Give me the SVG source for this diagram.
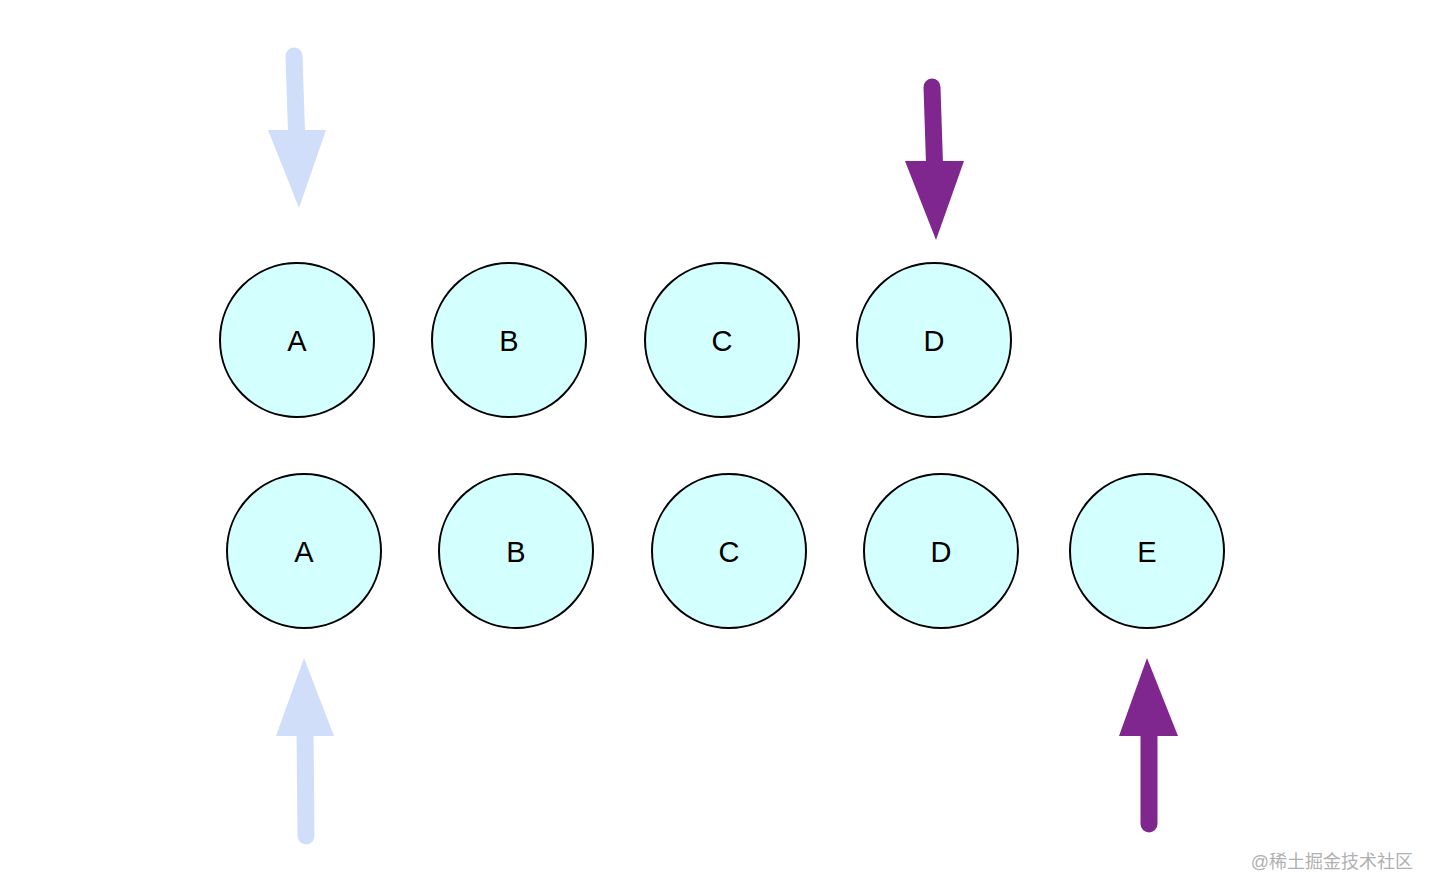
<svg xmlns="http://www.w3.org/2000/svg" width="1438" height="896" viewBox="0 0 1438 896">
<style>
.n circle{fill:#d4ffff;stroke:#000;stroke-width:2}
.n text{font-family:"Liberation Sans",Arial,sans-serif;font-size:29px;fill:#000;text-anchor:middle;dominant-baseline:central}
.sh{fill:none;stroke-width:17;stroke-linecap:round}
.lb{stroke:#d0defa}.lbf{fill:#d0defa}
.pu{stroke:#80278f}.puf{fill:#80278f}
.wm{font-family:"Liberation Sans","Noto Sans CJK SC",sans-serif;font-size:18px;fill:#b0b0b0;text-anchor:end}
</style>
<rect width="1438" height="896" fill="#fff"/>
<g id="connectors">
<line class="sh lb" x1="294" y1="56" x2="296.5" y2="132"/>
<polygon class="lbf" points="268,130 326,130 299,208"/>
<line class="sh pu" x1="932" y1="87" x2="934.5" y2="164"/>
<polygon class="puf" points="905,161 964,161 936,240"/>
<line class="sh lb" x1="306" y1="836" x2="305" y2="733"/>
<polygon class="lbf" points="304,658 276,736 334,736"/>
<line class="sh pu" x1="1149" y1="824" x2="1149" y2="734"/>
<polygon class="puf" points="1147,658 1119,736 1178,736"/>
</g>
<g id="a1" class="n"><circle cx="297" cy="340" r="77"/><text x="297" y="341">A</text></g>
<g id="b1" class="n"><circle cx="509" cy="340" r="77"/><text x="509" y="341">B</text></g>
<g id="c1" class="n"><circle cx="722" cy="340" r="77"/><text x="722" y="341">C</text></g>
<g id="d1" class="n"><circle cx="934" cy="340" r="77"/><text x="934" y="341">D</text></g>
<g id="a2" class="n"><circle cx="304" cy="551" r="77"/><text x="304" y="552">A</text></g>
<g id="b2" class="n"><circle cx="516" cy="551" r="77"/><text x="516" y="552">B</text></g>
<g id="c2" class="n"><circle cx="729" cy="551" r="77"/><text x="729" y="552">C</text></g>
<g id="d2" class="n"><circle cx="941" cy="551" r="77"/><text x="941" y="552">D</text></g>
<g id="e2" class="n"><circle cx="1147" cy="551" r="77"/><text x="1147" y="552">E</text></g>
<text class="wm" x="1413" y="868">@稀土掘金技术社区</text>
</svg>
